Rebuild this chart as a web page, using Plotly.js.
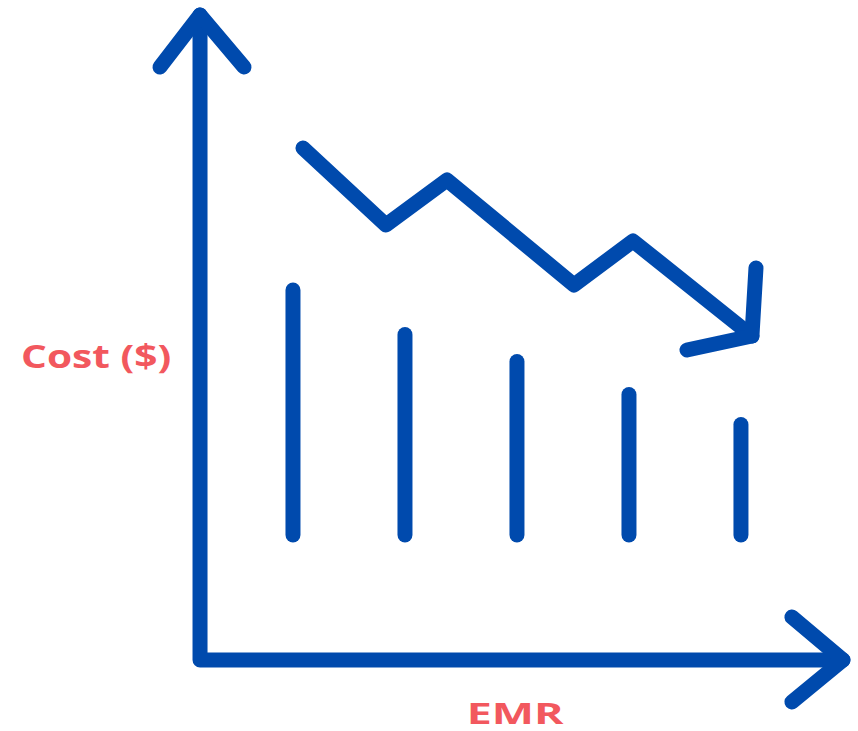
<!DOCTYPE html>
<html>
<head>
<meta charset="utf-8">
<script src="https://cdn.plot.ly/plotly-3.0.1.min.js"></script>
<style>
  html, body { margin: 0; padding: 0; background: #ffffff; }
  #chart { width: 858px; height: 731px; }
  .js-line { stroke-linecap: round !important; stroke-linejoin: round !important; }
  g.annotation text.annotation-text { transform-box: fill-box; transform-origin: center; }
  g.annotation[data-index="0"] text.annotation-text { transform: scaleX(1.27); }
  g.annotation[data-index="1"] text.annotation-text { transform: scaleX(1.6); }
</style>
</head>
<body>
<div id="chart"></div>
<script>
// ---- data (chart units) ----
const categories = [1, 2, 3, 4, 5];
const barBase = [1.25, 1.25, 1.25, 1.25, 1.25];
const barTop = [3.70, 3.255, 2.985, 2.655, 2.355];

const trendX = [1.089, 1.830, 2.375, 3.509, 4.036, 5.098];
const trendY = [5.12, 4.35, 4.80, 3.75, 4.19, 3.24];
const trendHeadX = [5.134, 5.098, 4.518];
const trendHeadY = [3.92, 3.24, 3.10];

const yLabel = "Cost ($)";
const xLabel = "EMR";

// axis arrow geometry
const axisX = [0.17, 0.17, 5.911];
const axisY = [6.45, 0, 0];
const yHeadX = [-0.1875, 0.17, 0.5625];
const yHeadY = [5.93, 6.45, 5.93];
const xHeadX = [5.455, 5.911, 5.455];
const xHeadY = [0.43, 0, -0.42];

const blue = "#004aad";
const red = "#f2585e";
const lw = 15;

// bars as vertical segments
const bx = [], by = [];
categories.forEach((c, i) => { bx.push(c, c, null); by.push(barBase[i], barTop[i], null); });

const lineTrace = (x, y) => ({
  x, y, type: "scatter", mode: "lines", hoverinfo: "skip", showlegend: false,
  connectgaps: false, line: { color: blue, width: lw }
});

const data = [
  lineTrace(axisX, axisY),
  lineTrace(yHeadX, yHeadY),
  lineTrace(xHeadX, xHeadY),
  lineTrace(bx, by),
  lineTrace(trendX, trendY),
  lineTrace(trendHeadX, trendHeadY)
];

const layout = {
  width: 858, height: 731,
  margin: { l: 0, r: 0, t: 0, b: 0, pad: 0 },
  paper_bgcolor: "#ffffff", plot_bgcolor: "#ffffff",
  showlegend: false,
  xaxis: { range: [-1.616, 6.045], visible: false, fixedrange: true },
  yaxis: { range: [-0.71, 6.6], visible: false, fixedrange: true },
  annotations: [
    { x: -0.76, y: 3.05, xref: "x", yref: "y", xanchor: "center", yanchor: "middle",
      text: "<b>" + yLabel + "</b>", showarrow: false,
      font: { family: "Open Sans", size: 32, color: red } },
    { x: 2.99, y: -0.53, xref: "x", yref: "y", xanchor: "center", yanchor: "middle",
      text: "<b>" + xLabel + "</b>", showarrow: false,
      font: { family: "Open Sans", size: 28, color: red } }
  ]
};

Plotly.newPlot("chart", data, layout, { displayModeBar: false, staticPlot: true });
</script>
</body>
</html>
